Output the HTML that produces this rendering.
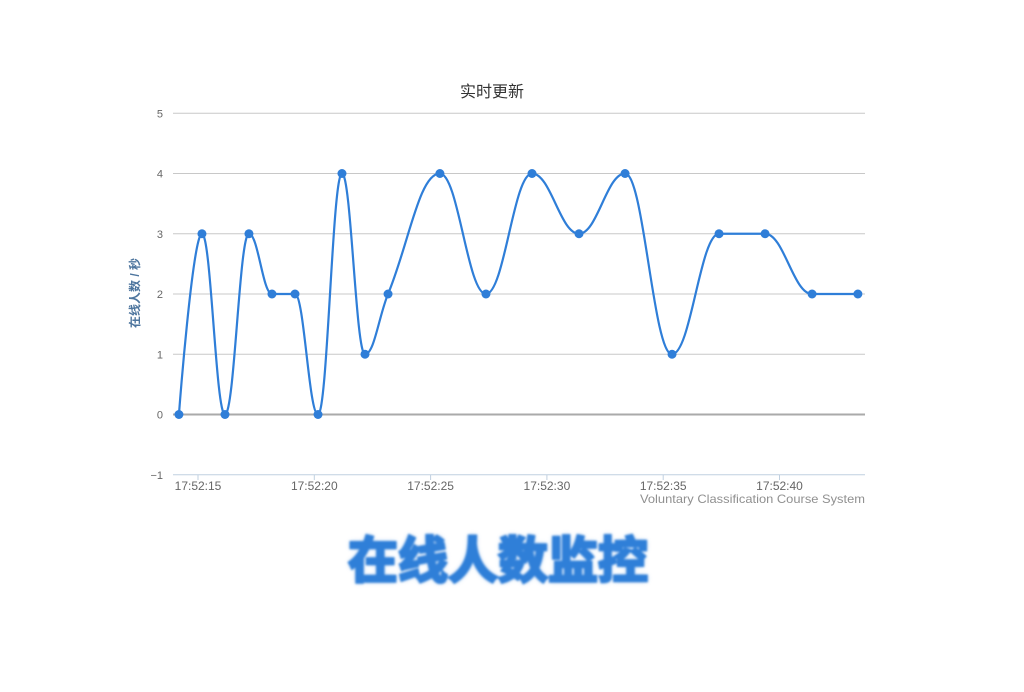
<!DOCTYPE html>
<html><head><meta charset="utf-8"><style>
html,body{margin:0;padding:0;background:#fff;}
#wrap{position:relative;width:1024px;height:692px;overflow:hidden;}
#logo{position:absolute;left:346px;top:528px;width:304px;text-align:center;font-family:"Liberation Sans","Noto Sans CJK SC",sans-serif;font-weight:bold;font-size:50px;line-height:66px;color:#2f7fd8;-webkit-text-stroke:2.5px #2f7fd8;letter-spacing:0px;filter:blur(1px);text-shadow:0 0 4px rgba(47,127,216,0.7);white-space:nowrap;}
</style></head><body>
<div id="wrap">
<svg id="chart" width="1024" height="692" style="position:absolute;left:0;top:0;font-family:'Liberation Sans','Noto Sans CJK SC',sans-serif;">
<text x="492" y="97" text-anchor="middle" font-size="16" fill="#333">实时更新</text>
<g id="grid"></g><g id="yticks"></g><g id="xticks"></g>
<text transform="translate(139,293) rotate(-90)" text-anchor="middle" font-size="12" font-weight="bold" fill="#4d759e">在线人数 / 秒</text>
<path id="line" fill="none" stroke="#2f7ed8" stroke-width="2.2"></path>
<g id="points"></g>
<text x="640" y="503" font-size="12" fill="#909090" textLength="225" lengthAdjust="spacingAndGlyphs">Voluntary Classification Course System</text>
</svg>
<div id="logo">在线人数监控</div>
</div>
<script>
const times=[14.18,15.17,16.16,17.19,18.18,19.17,20.16,21.19,22.18,23.17,25.40,27.38,29.36,31.38,33.36,35.38,37.40,39.38,41.40,43.37];
const values=[0,3,0,3,2,2,0,4,1,2,4,2,4,3,4,1,3,3,2,2];
const yTicks=[-1,0,1,2,3,4,5];
const xTickSecs=[15,20,25,30,35,40];
const xTickLabels=["17:52:15","17:52:20","17:52:25","17:52:30","17:52:35","17:52:40"];
const NS="http://www.w3.org/2000/svg";
const X=t=>198+(t-15)*23.26;
const Y=v=>414.5-v*60.25;
function mk(tag,attrs,parent){const e=document.createElementNS(NS,tag);for(const k in attrs)e.setAttribute(k,attrs[k]);parent.appendChild(e);return e;}
const grid=document.getElementById('grid'),yt=document.getElementById('yticks'),xt=document.getElementById('xticks');
yTicks.forEach(v=>{
 const l=mk('line',{x1:173,x2:865,y1:Y(v),y2:Y(v),stroke:v===0?'#aaa':(v===-1?'#c0d0e0':'#c8c8c8'),'stroke-width':v===0?2:1},grid);
 
 
 const t=mk('text',{x:163,y:Y(v)+4,'text-anchor':'end','font-size':11,fill:'#666'},yt);t.textContent=v===-1?'−1':String(v);
 
 
});
xTickSecs.forEach((s,i)=>{
 const tk=mk('line',{x1:X(s),x2:X(s),y1:475,y2:480,stroke:'#c0d0e0'},xt);
 
 
 const t=mk('text',{x:X(s),y:490,'text-anchor':'middle','font-size':12,fill:'#666'},xt);t.textContent=xTickLabels[i];
 
 
});
const pts=times.map((t,i)=>[X(t),Y(values[i])]);
let d='M'+pts[0][0]+' '+pts[0][1];
const sm=1.5,den=2.5;
function ctrl(i){
 const p=pts[i],a=pts[i-1],b=pts[i+1];
 if(!a||!b)return [p[0],p[1],p[0],p[1]];
 let lx=(sm*p[0]+a[0])/den,ly=(sm*p[1]+a[1])/den,rx=(sm*p[0]+b[0])/den,ry=(sm*p[1]+b[1])/den;
 let corr=0;if(rx!==lx)corr=((ry-ly)*(rx-p[0]))/(rx-lx)+p[1]-ry;
 ly+=corr;ry+=corr;
 if(ly>a[1]&&ly>p[1]){ly=Math.max(a[1],p[1]);ry=2*p[1]-ly;}else if(ly<a[1]&&ly<p[1]){ly=Math.min(a[1],p[1]);ry=2*p[1]-ly;}
 if(ry>b[1]&&ry>p[1]){ry=Math.max(b[1],p[1]);ly=2*p[1]-ry;}else if(ry<b[1]&&ry<p[1]){ry=Math.min(b[1],p[1]);ly=2*p[1]-ry;}
 return [lx,ly,rx,ry];
}
for(let i=1;i<pts.length;i++){const c0=ctrl(i-1),c1=ctrl(i);d+=' C'+c0[2]+' '+c0[3]+' '+c1[0]+' '+c1[1]+' '+pts[i][0]+' '+pts[i][1];}
document.getElementById('line').setAttribute('d',d);
const pg=document.getElementById('points');
pts.forEach(p=>{const c=mk('circle',{cx:p[0],cy:p[1],r:4.5,fill:'#2f7ed8'},pg);
 
 });
</script>
</body></html>
